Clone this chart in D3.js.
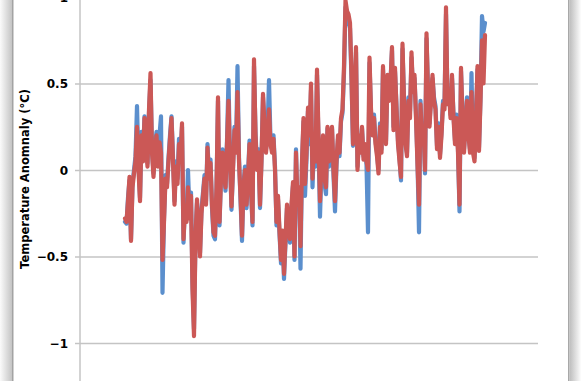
<!DOCTYPE html>
<html>
<head>
<meta charset="utf-8">
<script src="https://cdn.jsdelivr.net/npm/d3@7"></script>
<style>
  body { margin: 0; background: #fff; }
  svg { display: block; }
  .tick text { font-family: "DejaVu Sans", Verdana, sans-serif; font-weight: bold; font-size: 12px; fill: #000; }
</style>
</head>
<body>
<div class="render"></div>
<script>
// annual anomalies, one value per year
var years = d3.range(1760, 2001);

var red = [
  -0.28, -0.30, -0.18, -0.04, -0.41, -0.10, -0.02, 0.05, 0.25, 0.00,
  -0.18, 0.20, 0.05, 0.30, 0.15, 0.02, 0.35, 0.56, 0.10, -0.04,
  0.12, 0.20, 0.02, 0.16, 0.10, -0.52, -0.30, -0.05, -0.10, 0.05,
  0.18, 0.30, 0.05, -0.20, 0.02, -0.08, 0.15, 0.05, 0.27, -0.40,
  -0.22, -0.30, -0.10, -0.28, -0.15, -0.69, -0.96, -0.40, -0.17, -0.35,
  -0.50, -0.25, -0.15, -0.05, -0.20, 0.13, -0.05, 0.04, -0.20, -0.36,
  -0.38, -0.10, 0.42, -0.30, -0.05, 0.10, -0.02, -0.10, 0.15, 0.40,
  0.05, -0.21, 0.00, 0.23, 0.10, 0.45, 0.05, -0.15, -0.38, -0.10,
  0.00, -0.20, -0.05, 0.15, -0.10, -0.30, 0.64, 0.20, 0.00, 0.10,
  -0.20, 0.05, 0.44, 0.25, 0.10, 0.20, 0.35, 0.15, 0.10, 0.18,
  0.00, -0.30, -0.15, -0.35, -0.52, -0.35, -0.60, -0.40, -0.20, -0.35,
  -0.40, -0.20, -0.07, -0.50, 0.10, -0.20, -0.10, -0.44, 0.05, 0.30,
  -0.08, 0.10, 0.36, 0.20, 0.50, -0.05, 0.20, 0.05, 0.58, 0.20,
  -0.18, 0.05, 0.20, -0.05, -0.10, 0.25, 0.05, 0.15, 0.25, 0.00,
  -0.18, 0.05, 0.20, 0.10, 0.30, 0.35, 0.60, 0.98, 0.92, 0.90,
  0.85, 0.55, 0.15, 0.40, 0.71, 0.00, 0.20, 0.10, 0.25, 0.06,
  0.15, 0.05, 0.00, 0.65, 0.35, 0.20, 0.30, 0.15, 0.08, -0.02,
  0.25, 0.10, 0.60, 0.30, 0.15, 0.55, 0.40, 0.50, 0.71, 0.23,
  0.59, 0.35, 0.15, 0.05, -0.04, 0.73, 0.40, 0.15, 0.08, 0.40,
  0.30, 0.68, 0.45, 0.55, 0.30, 0.03, -0.20, 0.38, 0.15, 0.25,
  0.00, 0.79, 0.45, 0.25, 0.40, 0.55, 0.40, 0.35, 0.12, 0.25,
  0.07, 0.20, 0.38, 0.35, 0.94, 0.38, 0.45, 0.30, 0.55, 0.30,
  0.15, 0.30, 0.10, -0.20, 0.59, 0.30, 0.10, 0.25, 0.40, 0.20,
  0.10, 0.45, 0.10, 0.05, 0.30, 0.60, 0.11, 0.40, 0.75, 0.50,
  0.78
];

var blue = [
  -0.30, -0.31, -0.16, -0.06, -0.40, -0.08, 0.00, 0.08, 0.37, 0.03,
  -0.16, 0.22, 0.08, 0.31, 0.17, 0.04, 0.33, 0.52, 0.12, -0.02,
  0.14, 0.22, 0.05, 0.20, 0.31, -0.71, -0.28, -0.03, -0.08, 0.07,
  0.20, 0.31, 0.08, -0.18, 0.05, -0.05, 0.18, 0.08, 0.25, -0.42,
  -0.20, -0.28, 0.00, -0.26, -0.13, -0.65, -0.92, -0.38, -0.19, -0.33,
  -0.48, -0.23, -0.13, -0.03, -0.18, 0.15, -0.03, 0.06, -0.22, -0.38,
  -0.40, -0.12, 0.40, -0.32, -0.03, 0.12, 0.00, -0.12, 0.17, 0.52,
  0.07, -0.23, 0.02, 0.25, 0.12, 0.60, 0.07, -0.17, -0.41, -0.08,
  0.02, -0.22, -0.03, 0.17, -0.12, -0.32, 0.60, 0.22, 0.02, 0.12,
  -0.22, 0.07, 0.42, 0.27, 0.12, 0.22, 0.52, 0.17, 0.12, 0.20,
  0.02, -0.32, -0.17, -0.37, -0.54, -0.37, -0.63, -0.42, -0.22, -0.37,
  -0.42, -0.22, -0.09, -0.52, 0.12, -0.22, -0.12, -0.57, 0.03, 0.28,
  -0.15, 0.06, 0.34, 0.15, 0.46, -0.10, 0.16, 0.02, 0.55, 0.16,
  -0.27, 0.02, 0.17, -0.08, -0.14, 0.24, 0.02, 0.13, 0.24, -0.03,
  -0.24, 0.03, 0.18, 0.08, 0.28, 0.33, 0.56, 0.94, 0.88, 0.86,
  0.82, 0.52, 0.14, 0.38, 0.68, 0.02, 0.18, 0.12, 0.24, 0.08,
  0.14, 0.03, -0.36, 0.62, 0.33, 0.22, 0.32, 0.17, 0.10, 0.00,
  0.27, 0.12, 0.58, 0.32, 0.17, 0.53, 0.42, 0.52, 0.69, 0.25,
  0.57, 0.37, 0.17, 0.07, -0.06, 0.70, 0.42, 0.17, 0.10, 0.42,
  0.34, 0.65, 0.47, 0.53, 0.32, 0.05, -0.36, 0.40, 0.17, 0.27,
  -0.02, 0.76, 0.47, 0.27, 0.42, 0.53, 0.42, 0.37, 0.14, 0.27,
  0.09, 0.22, 0.40, 0.37, 0.90, 0.40, 0.47, 0.32, 0.53, 0.32,
  0.17, 0.32, 0.12, -0.24, 0.57, 0.32, 0.12, 0.27, 0.42, 0.22,
  0.12, 0.56, 0.12, 0.07, 0.32, 0.58, 0.13, 0.42, 0.89, 0.80,
  0.85
];

var yTicks = [-1, -0.5, 0, 0.5, 1];
var yTitle = 'Temperature Anomnaly (\u00b0C)';

function draw() {
  var w = 581;
  var h = 381;

  var svg = d3.select('.render').append('svg').attr('width', w).attr('height', h);

  // drop shadow strips of the chart frame
  var defs = svg.append('defs');
  var gl = defs.append('linearGradient').attr('id', 'shadeL');
  gl.append('stop').attr('offset', '0%').attr('stop-color', '#fbfbfb');
  gl.append('stop').attr('offset', '100%').attr('stop-color', '#c4c4c4');
  var gr = defs.append('linearGradient').attr('id', 'shadeR');
  gr.append('stop').attr('offset', '0%').attr('stop-color', '#bdbdbd');
  gr.append('stop').attr('offset', '100%').attr('stop-color', '#fdfdfd');

  svg.append('rect').attr('x', 0).attr('y', 0).attr('width', 12).attr('height', h).attr('fill', 'url(#shadeL)');
  svg.append('rect').attr('x', 12).attr('y', 0).attr('width', 1.5).attr('height', h).attr('fill', '#a3a3a3');
  svg.append('rect').attr('x', 568).attr('y', 0).attr('width', 1.5).attr('height', h).attr('fill', '#a8a8a8');
  svg.append('rect').attr('x', 569.5).attr('y', 0).attr('width', 11.5).attr('height', h).attr('fill', 'url(#shadeR)');

  var x = d3.scaleLinear().domain([years[0], years[years.length - 1]]).range([125, 485]);
  var y = d3.scaleLinear().domain([-1, 1]).range([343, -3]);

  var left = 80, right = 538;

  // gridlines
  svg.append('g').attr('transform', 'translate(' + left + ',0)')
    .call(d3.axisLeft(y).tickValues(yTicks).tickSize(-(right - left)).tickFormat(''))
    .call(function (g) {
      g.select('.domain').remove();
      g.selectAll('line').attr('stroke', '#c4c4c4').attr('stroke-width', 1.5);
    });

  // y axis with labels and outside ticks
  svg.append('g').attr('transform', 'translate(' + left + ',0)')
    .call(d3.axisLeft(y).tickValues(yTicks).tickSize(5).tickSizeOuter(0).tickPadding(7).tickFormat(d3.format('')))
    .call(function (g) {
      g.select('.domain').attr('stroke', '#c4c4c4').attr('stroke-width', 1.5)
        .attr('d', 'M0,-10V' + (h + 10));
      g.selectAll('line').attr('stroke', '#c4c4c4').attr('stroke-width', 1.5);
      g.selectAll('text').attr('dy', '0.36em');
    });

  var line = d3.line()
    .x(function (d, i) { return x(years[i]); })
    .y(function (d) { return y(d); });

  svg.append('path').datum(blue).attr('d', line)
    .attr('fill', 'none').attr('stroke', '#5b8fcd').attr('stroke-width', 4.2)
    .attr('stroke-linejoin', 'round').attr('stroke-linecap', 'round');

  svg.append('path').datum(red).attr('d', line)
    .attr('fill', 'none').attr('stroke', '#cb5856').attr('stroke-width', 4.2)
    .attr('stroke-linejoin', 'round').attr('stroke-linecap', 'round');

  svg.append('text').text(yTitle)
    .attr('transform', 'translate(29,179)rotate(-90)')
    .attr('text-anchor', 'middle')
    .style('font-family', '"DejaVu Sans", Verdana, sans-serif')
    .style('font-weight', 'bold')
    .style('font-size', '11.5px');
}

draw();
</script>
</body>
</html>
